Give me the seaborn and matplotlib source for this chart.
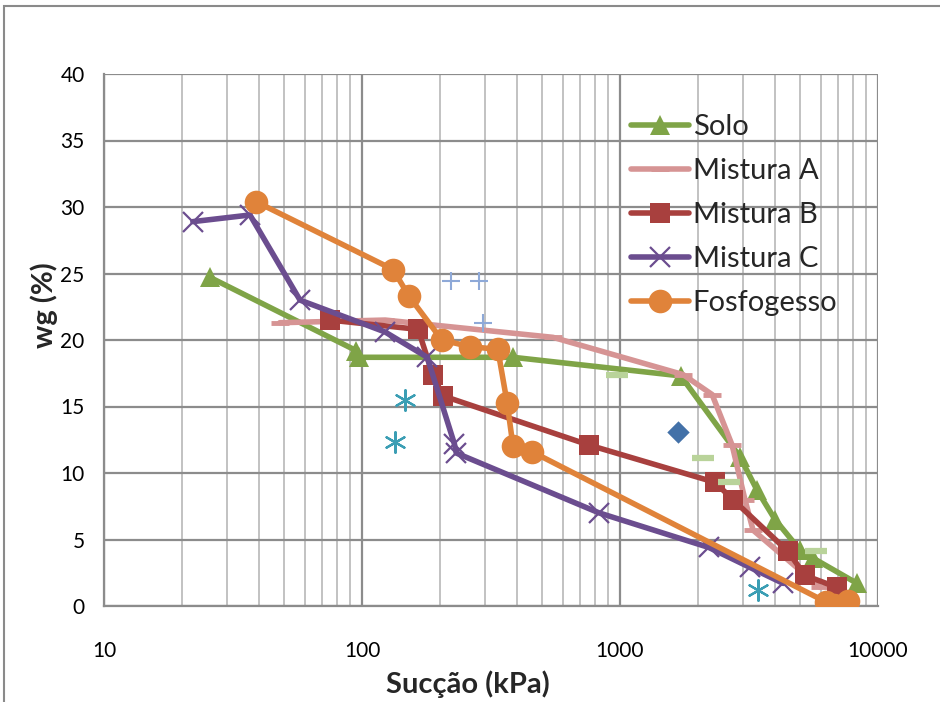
import numpy as np
import pandas as pd
import matplotlib
matplotlib.use("Agg")
import matplotlib.pyplot as plt
import seaborn as sns
from matplotlib.ticker import FixedLocator, NullFormatter, FixedFormatter
from matplotlib.patches import Rectangle

# ---------------- data ----------------
solo_x = [25.8, 95, 97, 385, 1720, 2920, 3400, 3990, 4990, 5600, 8300]
solo_y = [24.7, 19.2, 18.7, 18.7, 17.3, 11.2, 8.7, 6.5, 4.2, 3.6, 1.7]

mistA_x = [48, 123, 550, 1755, 2275, 2720, 3050, 3280, 5960]
mistA_y = [21.3, 21.5, 20.2, 17.4, 15.9, 12.1, 8.0, 5.7, 1.4]

mistB_x = [75, 165, 188, 206, 759, 2334, 2740, 4480, 5210, 6930]
mistB_y = [21.5, 20.8, 17.4, 15.8, 12.1, 9.3, 8.0, 4.1, 2.3, 1.4]

mistC_x = [22.1, 36.8, 57.5, 123, 179, 228, 232, 830, 2210, 3190, 4290]
mistC_y = [28.9, 29.4, 23.0, 20.6, 18.7, 12.2, 11.5, 7.0, 4.4, 2.9, 1.7]

fosfo_x = [38.8, 132, 152, 204, 262, 336, 365, 385, 456, 6290, 6750, 7650]
fosfo_y = [30.4, 25.3, 23.3, 20.0, 19.5, 19.3, 15.3, 12.0, 11.6, 0.3, 0.1, 0.4]

# extra unlabeled series
diam_x = [1680]
diam_y = [13.1]
plus_x = [221, 284, 294]
plus_y = [24.4, 24.4, 21.3]
ast_x = [147, 134, 3430]
ast_y = [15.5, 12.3, 1.2]
dash_x = [973, 2100, 2640, 5750]
dash_y = [17.4, 11.1, 9.3, 4.1]

x_ticks = [10, 100, 1000, 10000]
x_tick_labels = ["10", "100", "1000", "10000"]
y_ticks = [0, 5, 10, 15, 20, 25, 30, 35, 40]

# ---------------- style ----------------
sns.set_theme(style="white")
plt.rcParams["font.family"] = ["Lato", "DejaVu Sans"]

fig = plt.figure(figsize=(9.4, 7.02), dpi=100)
ax = fig.add_axes([104 / 940, 1 - 606 / 702, (878 - 104) / 940, (606 - 74) / 702])
ax.set_xscale("log")
ax.set_xlim(10, 10000)
ax.set_ylim(0, 40)

# grid
ax.xaxis.set_major_locator(FixedLocator(x_ticks))
ax.xaxis.set_major_formatter(FixedFormatter(x_tick_labels))
minors = [m * d for d in (10, 100, 1000) for m in range(2, 10)]
ax.xaxis.set_minor_locator(FixedLocator(minors))
ax.xaxis.set_minor_formatter(NullFormatter())
ax.yaxis.set_major_locator(FixedLocator(y_ticks))
ax.grid(which="major", axis="both", color="#8c8c8c", lw=1.6, zorder=0)
ax.grid(which="minor", axis="x", color="#c2c2c2", lw=1.4, zorder=0)
ax.set_axisbelow(True)

for s in ["top", "right"]:
    ax.spines[s].set_visible(False)
for s in ["left", "bottom"]:
    ax.spines[s].set_color("#8c8c8c")
    ax.spines[s].set_linewidth(1.6)

ax.tick_params(axis="x", which="major", direction="inout", length=7, width=1.4,
               color="#8c8c8c", labelsize=15, pad=22, labelcolor="black")
ax.tick_params(axis="x", which="minor", length=0)
ax.tick_params(axis="y", which="major", direction="inout", length=8, width=1.4,
               color="#8c8c8c", labelsize=15, pad=10, labelcolor="black")
ax.set_xlabel("")
ax.set_ylabel("")

lw = 4.0
common = dict(ax=ax, sort=False, estimator=None, linewidth=lw, zorder=3)

c_solo, c_a, c_b, c_c, c_f = "#7FA447", "#D69494", "#A8403E", "#6B4D8F", "#E0833A"

sns.lineplot(x=solo_x, y=solo_y, color=c_solo, marker="^", markersize=15,
             markeredgewidth=0, markeredgecolor=c_solo, label="Solo", **common)
sns.lineplot(x=mistA_x, y=mistA_y, color=c_a, marker="_", markersize=13,
             markeredgewidth=3.5, markeredgecolor=c_a, label="Mistura A", **common)
sns.lineplot(x=mistB_x, y=mistB_y, color=c_b, marker="s", markersize=15,
             markeredgewidth=0, markeredgecolor=c_b, label="Mistura B", **common)
sns.lineplot(x=mistC_x, y=mistC_y, color=c_c, marker="x", markersize=14,
             markeredgewidth=1.6, markeredgecolor=c_c, label="Mistura C", **common)
sns.lineplot(x=fosfo_x, y=fosfo_y, color=c_f, marker="o", markersize=17,
             markeredgewidth=0, markeredgecolor=c_f, label="Fosfogesso", **common)

# unlabeled point series
sns.scatterplot(x=diam_x, y=diam_y, ax=ax, color="#4371A8", marker="D", s=130,
                linewidth=0, zorder=4)
sns.scatterplot(x=plus_x, y=plus_y, ax=ax, color="#8EA9D8", marker="+", s=180,
                linewidth=1.5, zorder=4)
sns.scatterplot(x=ast_x, y=ast_y, ax=ax, color="#3B9EB4", marker=(6, 2, 0), s=220,
                linewidth=1.6, edgecolor="#3B9EB4", zorder=4)
sns.scatterplot(x=dash_x, y=dash_y, ax=ax, color="#B9D39A", marker="_", s=240,
                linewidth=4.5, edgecolor="#B9D39A", zorder=4)

handles, labels = ax.get_legend_handles_labels()
keep = ["Solo", "Mistura A", "Mistura B", "Mistura C", "Fosfogesso"]
hl = [(h, l) for h, l in zip(handles, labels) if l in keep]
leg = ax.legend([h for h, _ in hl], [l for _, l in hl], loc="upper left",
                bbox_to_anchor=(631 / 940, 1 - 114 / 702), bbox_transform=fig.transFigure,
                frameon=False, fontsize=21, handlelength=2.0, handletextpad=0.12,
                labelspacing=0.62, borderpad=0, borderaxespad=0)

fig.text(468 / 940, 1 - 684 / 702, "Sucção (kPa)", ha="center", va="center",
         fontsize=21, fontweight="bold")
fig.text(44 / 940, 1 - 305 / 702, "wg (%)", ha="center", va="center",
         rotation=90, fontsize=21, fontweight="bold")

fig.patches.append(Rectangle((4 / 940, -0.05), 1.2, 1 - 6 / 702 + 0.05,
                             transform=fig.transFigure, fill=False,
                             ec="#8a8a8a", lw=1.5, zorder=10))

fig.savefig("out.png", dpi=100, facecolor="white")
